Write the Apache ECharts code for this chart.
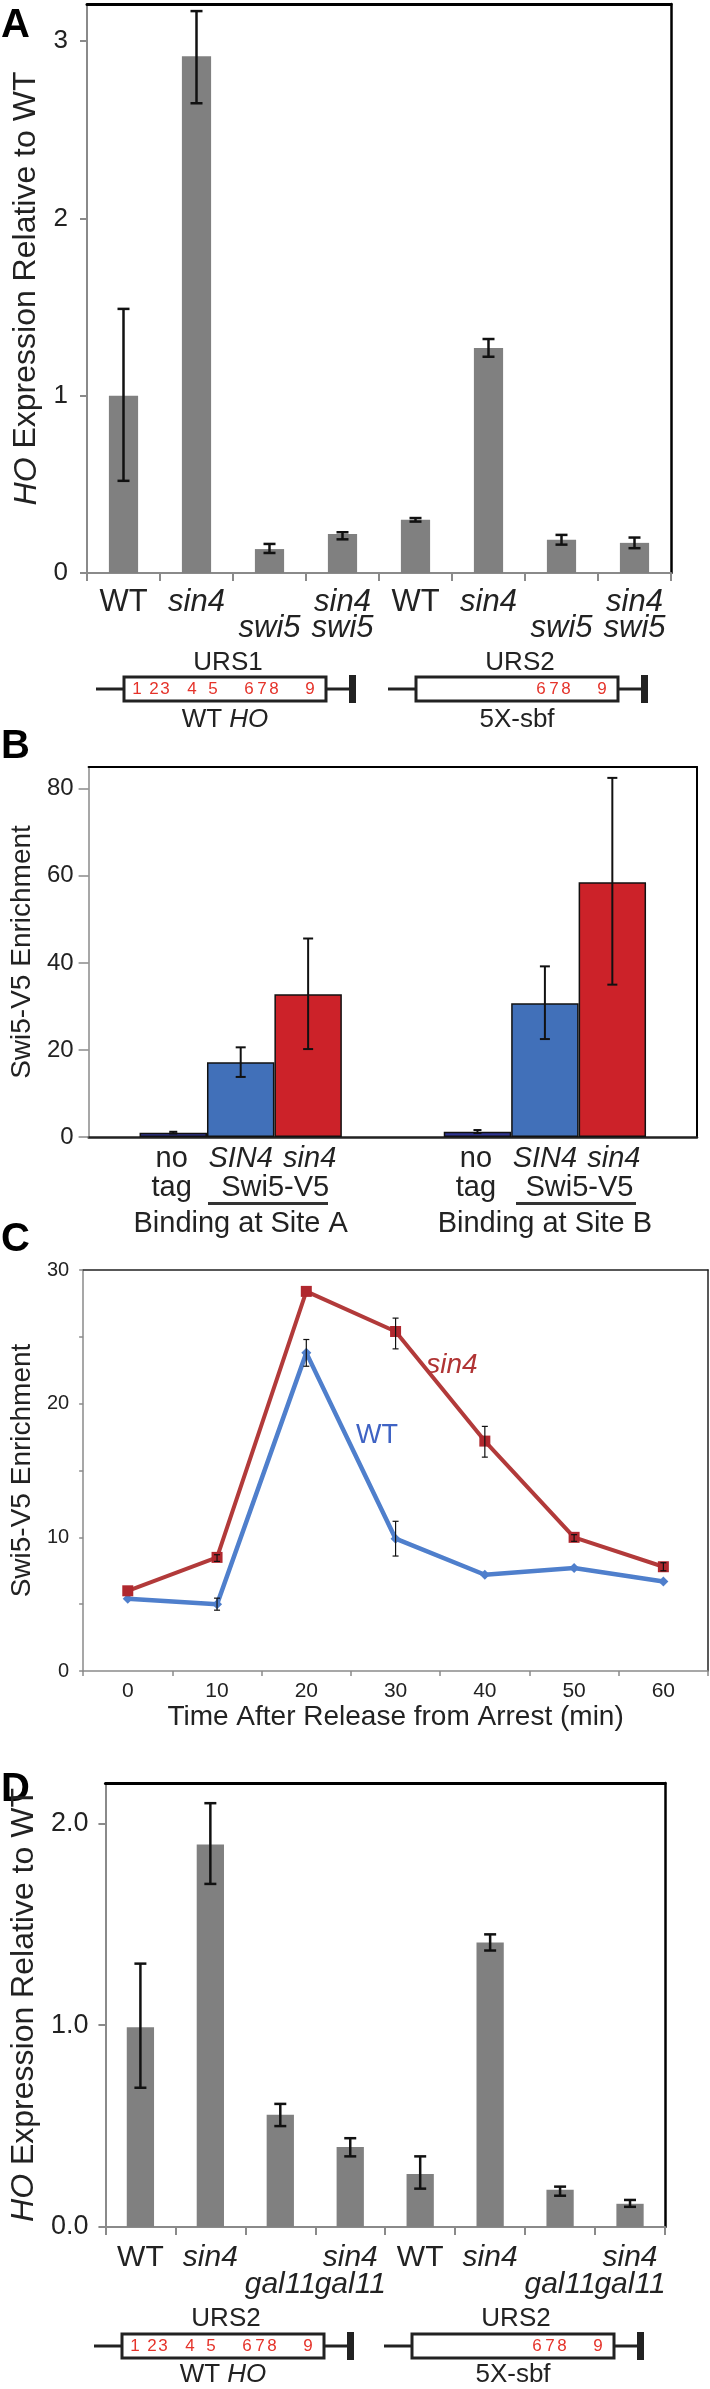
<!DOCTYPE html>
<html><head><meta charset="utf-8">
<script src="https://cdn.jsdelivr.net/npm/echarts@6/dist/echarts.min.js"></script>
<style>html,body{margin:0;padding:0;background:#fff}#c{width:710px;height:2389px}</style>
</head><body><div id="c"></div>
<script>
// ---------- Panel A data ----------
const labelRow1A = ['WT','sin4','','sin4','WT','sin4','','sin4'];
const labelRow2A = ['','','swi5','swi5','','','swi5','swi5'];
const valsA  = [1.00, 2.915, 0.135, 0.22, 0.30, 1.27, 0.187, 0.17];
const errLoA = [0.52, 2.65, 0.113, 0.19, 0.29, 1.22, 0.16, 0.14];
const errHiA = [1.49, 3.17, 0.164, 0.23, 0.31, 1.32, 0.215, 0.20];
const ticksA = [0, 1, 2, 3];
// ---------- Panel B data ----------
const groupsB = ['Binding at Site A', 'Binding at Site B'];
const noTagB  = [1.0, 1.2];
const noTagLoB = [0.8, 0.9];
const noTagHiB = [1.2, 1.6];
const SIN4B   = [17.2, 30.7];
const SIN4LoB = [13.8, 22.5];
const SIN4HiB = [20.6, 39.2];
const sin4B   = [32.8, 58.5];
const sin4LoB = [20.2, 35.0];
const sin4HiB = [45.6, 82.5];
const ticksB = [0, 20, 40, 60, 80];
// ---------- Panel C data ----------
const timesC = ['0','10','20','30','40','50','60'];
const wtC    = [5.4, 5.0, 23.8, 9.9, 7.2, 7.7, 6.7];
const wtLoC  = [null, 4.55, 22.8, 8.6, null, null, null];
const wtHiC  = [null, 5.45, 24.8, 11.2, null, null, null];
const sin4C  = [6.0, 8.5, 28.4, 25.4, 17.2, 10.0, 7.8];
const sin4LoC = [null, 8.2, null, 24.1, 16.0, 9.7, 7.5];
const sin4HiC = [null, 8.7, null, 26.4, 18.3, 10.2, 8.1];
const ticksC = [0, 10, 20, 30];
// ---------- Panel D data ----------
const labelRow1D = ['WT','sin4','','sin4','WT','sin4','','sin4'];
const labelRow2D = ['','','gal11','gal11','','','gal11','gal11'];
const valsD  = [0.99, 1.895, 0.556, 0.397, 0.263, 1.41, 0.184, 0.115];
const errLoD = [0.69, 1.70, 0.50, 0.35, 0.19, 1.37, 0.155, 0.10];
const errHiD = [1.305, 2.10, 0.61, 0.44, 0.35, 1.45, 0.20, 0.134];
const ticksD = [0, 1, 2];

const FONT = '"Liberation Sans", Arial, sans-serif';
const NFONT = '"Liberation Sans Narrow", "Arial Narrow", "Liberation Sans", sans-serif';
const TXT = '#222';
const GREY = '#8a8a8a';
const BARGREY = '#808080';

const chart = echarts.init(document.getElementById('c'));

function rowFmt(s) {
  if (!s) return '{n| }';
  return s === 'WT' ? '{n|' + s + '}' : '{i|' + s + '}';
}
function richCat(fs, lh) {
  return {
    n: {fontFamily: NFONT, fontSize: fs, color: TXT, lineHeight: lh},
    i: {fontFamily: NFONT, fontSize: fs, color: TXT, lineHeight: lh, fontStyle: 'italic'}
  };
}
function errSeries(xi, yi, lo, hi, capHalf, lw, offsetFrac) {
  const data = [];
  lo.forEach((l, i) => { if (l != null && hi[i] != null) data.push([i, l, hi[i]]); });
  return {
    type: 'custom', xAxisIndex: xi, yAxisIndex: yi, z: 10, silent: true,
    data: data,
    renderItem: function (params, api) {
      const i = api.value(0);
      const band = api.size([1, 0])[0];
      const off = (offsetFrac || 0) * band;
      const p1 = api.coord([i, api.value(1)]);
      const p2 = api.coord([i, api.value(2)]);
      const x = p1[0] + off;
      const st = {stroke: '#111', lineWidth: lw};
      return {type: 'group', children: [
        {type: 'line', shape: {x1: x, y1: p1[1], x2: x, y2: p2[1]}, style: st},
        {type: 'line', shape: {x1: x - capHalf, y1: p1[1], x2: x + capHalf, y2: p1[1]}, style: st},
        {type: 'line', shape: {x1: x - capHalf, y1: p2[1], x2: x + capHalf, y2: p2[1]}, style: st}
      ]};
    }
  };
}
function borderX(gi, w, color) {
  return {gridIndex: gi, type: 'value', position: 'top', min: 0, max: 1,
    axisLine: {show: true, onZero: false, lineStyle: {color: color || '#000', width: w}},
    axisTick: {show: false}, axisLabel: {show: false}, splitLine: {show: false}};
}
function borderY(gi, w, color) {
  return {gridIndex: gi, type: 'value', position: 'right', min: 0, max: 1,
    axisLine: {show: true, onZero: false, lineStyle: {color: color || '#000', width: w}},
    axisTick: {show: false}, axisLabel: {show: false}, splitLine: {show: false}};
}
const yNameStyle = (fs) => ({fontFamily: NFONT, fontSize: fs, color: TXT,
  rich: {i: {fontFamily: NFONT, fontSize: fs, color: TXT, fontStyle: 'italic'}}});

// ---- Panel B layout of bars ----
const B_CAT_GAP = 0.335;
const B_BARFRAC = (1 - B_CAT_GAP) / 3;

// ---- gene diagrams (decoration) ----
const digitOffsWT = [[13,'1'],[30,'2'],[41,'3'],[68,'4'],[89,'5'],[125,'6'],[138,'7'],[150,'8'],[186,'9']];
const digitOffs5X = [[125,'6'],[138,'7'],[150,'8'],[186,'9']];
function diagram(left, y, digits, topLabel, bottomLabel, topDy, botDy) {
  const els = [];
  const st = {stroke: '#222', lineWidth: 3};
  els.push({type: 'line', shape: {x1: left - 28, y1: y, x2: left, y2: y}, style: st});
  els.push({type: 'rect', shape: {x: left, y: y - 12, width: 202, height: 24}, style: {fill: '#fff', stroke: '#222', lineWidth: 3}});
  els.push({type: 'line', shape: {x1: left + 202, y1: y, x2: left + 232, y2: y}, style: st});
  els.push({type: 'rect', shape: {x: left + 225, y: y - 14, width: 7, height: 28}, style: {fill: '#222'}});
  digits.forEach(d => els.push({type: 'text', x: left + d[0], y: y, style: {text: d[1], fontFamily: NFONT, fontSize: 17, fill: '#e5332a', align: 'center', verticalAlign: 'middle'}}));
  els.push({type: 'text', x: left + 104, y: y + topDy, style: {text: topLabel, fontFamily: FONT, fontSize: 26, fill: TXT, align: 'center', verticalAlign: 'middle'}});
  els.push({type: 'text', x: left + 101, y: y + botDy, style: {text: bottomLabel, fontFamily: FONT, fontSize: 26, fill: TXT, align: 'center', verticalAlign: 'middle',
    rich: {i: {fontFamily: FONT, fontSize: 26, fill: TXT, fontStyle: 'italic'}, n: {fontFamily: FONT, fontSize: 26, fill: TXT}}}});
  return els;
}
const panelLetter = (t, x, y) => ({type: 'text', x: x, y: y, style: {text: t, fontFamily: FONT, fontSize: 40, fontWeight: 'bold', fill: '#000', verticalAlign: 'middle'}});

const graphics = [].concat(
  [panelLetter('A', 1, 26), panelLetter('B', 1, 747), panelLetter('C', 1, 1240), panelLetter('D', 1, 1790)],
  diagram(124, 689, digitOffsWT, 'URS1', '{n|WT }{i|HO}', -26, 31),
  diagram(416, 689, digitOffs5X, 'URS2', '5X-sbf', -26, 31),
  diagram(122, 2346, digitOffsWT, 'URS2', '{n|WT }{i|HO}', -27, 29),
  diagram(412, 2346, digitOffs5X, 'URS2', '5X-sbf', -27, 29),
  [
    {type: 'rect', shape: {x: 208, y: 1202, width: 120, height: 3}, style: {fill: '#333'}},
    {type: 'rect', shape: {x: 516, y: 1202, width: 120, height: 3}, style: {fill: '#333'}},
    {type: 'text', x: 452, y: 1365, style: {text: 'sin4', fontFamily: NFONT, fontSize: 28, fontStyle: 'italic', fill: '#b03434', align: 'center', verticalAlign: 'middle'}},
    {type: 'text', x: 377, y: 1436, style: {text: 'WT', fontFamily: NFONT, fontSize: 27, fill: '#3f63c4', align: 'center', verticalAlign: 'middle'}}
  ]
);

const option = {
  animation: false,
  backgroundColor: '#fff',
  grid: [
    {left: 87, width: 584, top: 4, height: 569},
    {left: 74, width: 623, top: 767, height: 370},
    {left: 67, width: 641, top: 1270, height: 401},
    {left: 90, width: 575, top: 1783, height: 444}
  ],
  xAxis: [
    {gridIndex: 0, type: 'category', data: labelRow1A.map((s, i) => (s + ' ' + labelRow2A[i]).trim()),
      axisLine: {onZero: false, lineStyle: {color: GREY, width: 2}},
      axisTick: {show: true, length: 8, lineStyle: {color: GREY, width: 2}},
      axisLabel: {interval: 0, margin: 16, lineHeight: 26, color: TXT, fontFamily: NFONT, fontSize: 31,
        formatter: (v, i) => rowFmt(labelRow1A[i]) + '\n' + rowFmt(labelRow2A[i]), rich: richCat(31, 26)}},
    borderX(0, 3),
    {gridIndex: 1, type: 'category', data: groupsB,
      axisLine: {onZero: false, lineStyle: {color: '#222', width: 2.5}},
      axisTick: {show: false},
      axisLabel: {interval: 0, margin: 7, color: TXT, fontFamily: NFONT, fontSize: 29,
        formatter: (v) => '{c|no}{ci|SIN4}{ci|sin4}\n{c|tag}{cw|Swi5-V5}\n{b|' + v + '}',
        rich: {
          c: {width: 69, align: 'center', fontFamily: NFONT, fontSize: 29, color: TXT, lineHeight: 29},
          ci: {width: 69, align: 'center', fontFamily: NFONT, fontSize: 29, color: TXT, lineHeight: 29, fontStyle: 'italic'},
          cw: {width: 138, align: 'center', fontFamily: NFONT, fontSize: 29, color: TXT, lineHeight: 29},
          b: {width: 207, align: 'center', fontFamily: NFONT, fontSize: 29, color: TXT, lineHeight: 43}
        }}},
    borderX(1, 2),
    {gridIndex: 2, type: 'category', data: timesC, boundaryGap: true,
      name: 'Time After Release from Arrest (min)', nameLocation: 'middle', nameGap: 32,
      nameTextStyle: {fontFamily: NFONT, fontSize: 28, color: TXT},
      axisLine: {onZero: false, lineStyle: {color: GREY, width: 1.5}},
      axisTick: {show: true, length: 5, lineStyle: {color: GREY, width: 1.5}},
      axisLabel: {interval: 0, margin: 10, color: TXT, fontFamily: FONT, fontSize: 21}},
    borderX(2, 1.5, '#222'),
    {gridIndex: 3, type: 'category', data: labelRow1D.map((s, i) => (s + ' ' + labelRow2D[i]).trim()),
      axisLine: {onZero: false, lineStyle: {color: GREY, width: 2}},
      axisTick: {show: true, length: 8, lineStyle: {color: GREY, width: 2}},
      axisLabel: {interval: 0, margin: 17, lineHeight: 27, color: TXT, fontFamily: NFONT, fontSize: 30,
        formatter: (v, i) => rowFmt(labelRow1D[i]) + '\n' + rowFmt(labelRow2D[i]), rich: richCat(30, 27)}},
    borderX(3, 3)
  ],
  yAxis: [
    {gridIndex: 0, type: 'value', min: 0, max: 3.21, interval: 1,
      name: '{i|HO} Expression Relative to WT', nameLocation: 'middle', nameRotate: 90, nameGap: 42,
      nameTextStyle: yNameStyle(32),
      axisLine: {show: true, lineStyle: {color: GREY, width: 2}},
      axisTick: {show: true, length: 7, customValues: ticksA, lineStyle: {color: GREY, width: 2}},
      axisLabel: {customValues: ticksA, margin: 19, color: TXT, fontFamily: FONT, fontSize: 26},
      splitLine: {show: false}},
    borderY(0, 2.5),
    {gridIndex: 1, type: 'value', min: 0, max: 85, interval: 20,
      name: 'Swi5-V5 Enrichment', nameLocation: 'middle', nameRotate: 90, nameGap: 45,
      nameTextStyle: yNameStyle(28),
      axisLine: {show: true, lineStyle: {color: GREY, width: 1.5}},
      axisTick: {show: true, length: 10, customValues: ticksB, lineStyle: {color: GREY, width: 1.5}},
      axisLabel: {customValues: ticksB, margin: 15, color: TXT, fontFamily: FONT, fontSize: 24},
      splitLine: {show: false}},
    borderY(1, 2),
    {gridIndex: 2, type: 'value', min: 0, max: 30, interval: 5,
      name: 'Swi5-V5 Enrichment', nameLocation: 'middle', nameRotate: 90, nameGap: 39,
      nameTextStyle: yNameStyle(28),
      axisLine: {show: true, lineStyle: {color: GREY, width: 1.5}},
      axisTick: {show: true, length: 4, lineStyle: {color: GREY, width: 1.5}},
      axisLabel: {customValues: ticksC, margin: 14, color: TXT, fontFamily: FONT, fontSize: 20},
      splitLine: {show: false}},
    borderY(2, 1.5, '#222'),
    {gridIndex: 3, type: 'value', min: 0, max: 2.2, interval: 1,
      name: '{i|HO} Expression Relative to WT', nameLocation: 'middle', nameRotate: 90, nameGap: 57,
      nameTextStyle: yNameStyle(32),
      axisLine: {show: true, lineStyle: {color: GREY, width: 2}},
      axisTick: {show: true, length: 7, customValues: ticksD, lineStyle: {color: GREY, width: 2}},
      axisLabel: {customValues: ticksD, margin: 17, color: TXT, fontFamily: FONT, fontSize: 27,
        formatter: v => v.toFixed(1)},
      splitLine: {show: false}},
    borderY(3, 2.5)
  ],
  series: [
    {type: 'bar', xAxisIndex: 0, yAxisIndex: 0, data: valsA, barWidth: '40%', itemStyle: {color: BARGREY}},
    errSeries(0, 0, errLoA, errHiA, 6, 2.5, 0),

    {type: 'bar', xAxisIndex: 2, yAxisIndex: 2, name: 'no tag', data: noTagB, barGap: '0%', barCategoryGap: (B_CAT_GAP * 100) + '%',
      itemStyle: {color: '#2f3592', borderColor: '#111', borderWidth: 1.5}},
    {type: 'bar', xAxisIndex: 2, yAxisIndex: 2, name: 'SIN4', data: SIN4B, barGap: '0%', barCategoryGap: (B_CAT_GAP * 100) + '%',
      itemStyle: {color: '#4170b9', borderColor: '#111', borderWidth: 1.5}},
    {type: 'bar', xAxisIndex: 2, yAxisIndex: 2, name: 'sin4', data: sin4B, barGap: '0%', barCategoryGap: (B_CAT_GAP * 100) + '%',
      itemStyle: {color: '#cc2229', borderColor: '#111', borderWidth: 1.5}},
    errSeries(2, 2, noTagLoB, noTagHiB, 4, 2, -B_BARFRAC),
    errSeries(2, 2, SIN4LoB, SIN4HiB, 5, 2, 0),
    errSeries(2, 2, sin4LoB, sin4HiB, 5, 2, B_BARFRAC),

    {type: 'line', xAxisIndex: 4, yAxisIndex: 4, data: wtC, symbol: 'diamond', symbolSize: 10,
      lineStyle: {color: '#4f7fcc', width: 4.5}, itemStyle: {color: '#4f7fcc'}, z: 3},
    {type: 'line', xAxisIndex: 4, yAxisIndex: 4, data: sin4C, symbol: 'rect', symbolSize: 11,
      lineStyle: {color: '#b23a3a', width: 4}, itemStyle: {color: '#b0282e'}, z: 4},
    errSeries(4, 4, wtLoC, wtHiC, 3, 1.2, 0),
    errSeries(4, 4, sin4LoC, sin4HiC, 3, 1.2, 0),

    {type: 'bar', xAxisIndex: 6, yAxisIndex: 6, data: valsD, barWidth: '39%', itemStyle: {color: BARGREY}},
    errSeries(6, 6, errLoD, errHiD, 6, 2.5, 0)
  ],
  graphic: graphics
};
chart.setOption(option);
</script>
</body></html>
